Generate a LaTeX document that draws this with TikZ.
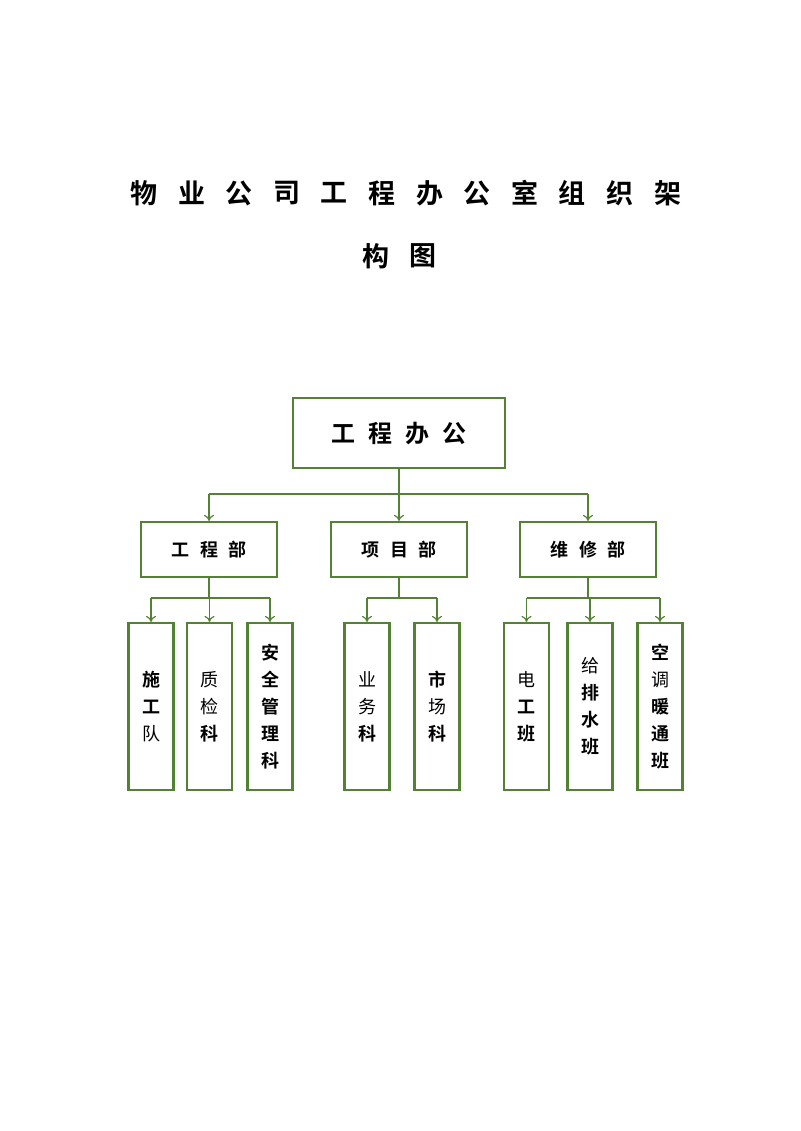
\documentclass[tikz,border=0pt]{standalone}
\usepackage{fontspec}
\setmainfont{Noto Sans CJK SC}
\newfontfamily\cjkb{Noto Sans CJK SC Bold}
\usetikzlibrary{arrows.meta}
\definecolor{gline}{RGB}{84,130,53}
\tikzset{
  box/.style={draw=gline,line width=2.2pt,inner sep=0pt},
  conn/.style={draw=gline,line width=1.4pt},
  arr/.style={conn,-{To[length=6pt,width=10pt,line width=1.2pt]}},
  vtext/.style={align=center,font=\fontsize{18pt}{27pt}\selectfont},
}
\begin{document}
\begin{tikzpicture}[x=1pt,y=-1pt]
\useasboundingbox (0,0) rectangle (800,1131);
% title
\foreach \c [count=\i] in {物,业,公,司,工,程,办,公,室,组,织,架}{
  \node[font=\cjkb\fontsize{27pt}{27pt}\selectfont] (t\i) at ({144+(\i-1)*47.6},193) {\c};
}
\node[font=\cjkb\fontsize{27pt}{27pt}\selectfont] (u1) at (376,256) {构};
\node[font=\cjkb\fontsize{27pt}{27pt}\selectfont] (u2) at (423,256) {图};
% top box
\node[box,minimum width=212pt,minimum height=70pt,font=\cjkb\fontsize{24pt}{24pt}\selectfont] (top) at (399,433) {工\hspace{0.55em}程\hspace{0.55em}办\hspace{0.55em}公};
% mid boxes
\foreach \n/\x/\t in {m1/209/{工\hspace{0.6em}程\hspace{0.6em}部},m2/399/{项\hspace{0.6em}目\hspace{0.6em}部},m3/588/{维\hspace{0.6em}修\hspace{0.6em}部}}{
  \node[box,minimum width=136pt,minimum height=55pt,font=\cjkb\fontsize{18pt}{18pt}\selectfont] (\n) at (\x,549.5) {\t};
}
\coordinate (j0) at (399,494);
\draw[conn] (top.south) -- (j0);
\draw[conn] (m1.north |- j0) -- (m3.north |- j0);
\draw[arr] (j0) -- (m2.north);
\draw[arr] (m1.north |- j0) -- (m1.north);
\draw[arr] (m3.north |- j0) -- (m3.north);
% bottom boxes
\foreach \n/\x/\t in {
  b1/151/{\cjkb 施\\\cjkb 工\\队},
  b2/209.5/{质\\检\\\cjkb 科},
  b3/270/{\cjkb 安\\\cjkb 全\\\cjkb 管\\\cjkb 理\\\cjkb 科},
  b4/367/{业\\务\\\cjkb 科},
  b5/437/{\cjkb 市\\场\\\cjkb 科},
  b6/526.5/{电\\\cjkb 工\\\cjkb 班},
  b7/590/{给\\\cjkb 排\\\cjkb 水\\\cjkb 班},
  b8/660/{\cjkb 空\\调\\\cjkb 暖\\\cjkb 通\\\cjkb 班}}{
  \node[box,minimum width=45pt,minimum height=167pt] (\n) at (\x,706.5) {};
  \node[vtext] (\n t) at (\n.center) {\t};
}
\coordinate (k1) at (209,598);
\coordinate (k2) at (399,598);
\coordinate (k3) at (588,598);
\draw[conn] (m1.south) -- (k1);
\draw[conn] (m2.south) -- (k2);
\draw[conn] (m3.south) -- (k3);
\draw[conn] (b1.north |- k1) -- (b3.north |- k1);
\draw[conn] (b4.north |- k2) -- (b5.north |- k2);
\draw[conn] (b6.north |- k3) -- (b8.north |- k3);
\foreach \b/\k in {b1/k1,b2/k1,b3/k1,b4/k2,b5/k2,b6/k3,b7/k3,b8/k3}{
  \draw[arr] (\b.north |- \k) -- (\b.north);
}
\end{tikzpicture}
\end{document}
